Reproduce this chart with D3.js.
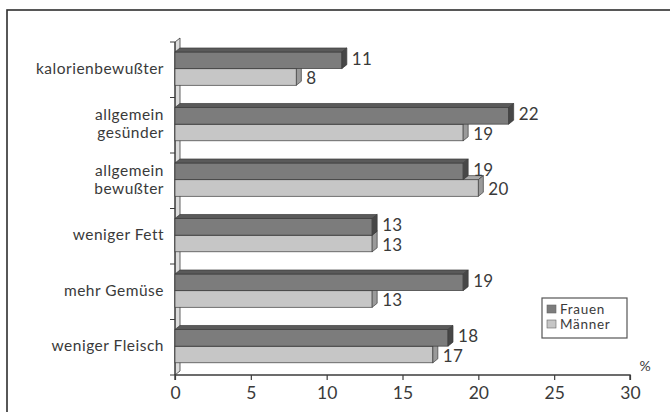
<!DOCTYPE html>
<html>
<head>
<meta charset="utf-8">
<script src="https://cdn.jsdelivr.net/npm/d3@7"></script>
<style>
  html, body { margin: 0; padding: 0; background: #fff; }
  svg { display: block; font-family: Lato, "Open Sans", sans-serif; }
</style>
</head>
<body>
<svg id="chart" width="670" height="412"></svg>
<script>
// Categories (top to bottom), each label may span two lines
const categories = [
  ["kalorienbewußter"],
  ["allgemein", "gesünder"],
  ["allgemein", "bewußter"],
  ["weniger Fett"],
  ["mehr Gemüse"],
  ["weniger Fleisch"]
];
const seriesNames = ["Frauen", "Männer"];
const frauen = [11, 22, 19, 13, 19, 18];
const maenner = [8, 19, 20, 13, 13, 17];
const xTicks = [0, 5, 10, 15, 20, 25, 30];

const svg = d3.select("#chart");
const textColor = "#3a3a3a";
const lineColor = "#3c3c3c";

// 3D depth offset of every box
const dx = 5, dy = -4;

const keys = categories.map(c => c.join(" "));
const x = d3.scaleLinear().domain([0, 30]).range([175, 630]);
const y = d3.scaleBand().domain(keys).range([42, 375]).padding(0);
const bw = y.bandwidth();
const ySub = d3.scaleBand().domain(seriesNames).range([bw * 0.18, bw * 0.78]);

const styles = {
  "Frauen": { front: "#7c7c7c", top: "#5a5a5a", side: "#474747", shift: -2 },
  "Männer": { front: "#c6c6c6", top: "#a9a9a9", side: "#9a9a9a", shift: 0.8 }
};

// outer frame
svg.append("rect")
  .attr("x", 7).attr("y", 10).attr("width", 700).attr("height", 450)
  .attr("fill", "none").attr("stroke", "#2e2e2e").attr("stroke-width", 1.6);

// back wall along the category axis
const x0 = x(0);
svg.append("polygon")
  .attr("points", [[x0, 42], [x0 + dx, 42 + dy], [x0 + dx, 375 + dy], [x0, 375]].join(" "))
  .attr("fill", "#dcdcdc").attr("stroke", lineColor).attr("stroke-width", 0.8);

// category axis ticks at band boundaries
const bounds = keys.map(k => y(k)).concat([375]);
svg.append("g").selectAll("line").data(bounds).join("line")
  .attr("x1", x0 - 5).attr("x2", x0)
  .attr("y1", d => d).attr("y2", d => d)
  .attr("stroke", lineColor).attr("stroke-width", 1);
svg.append("line")
  .attr("x1", x0).attr("x2", x0).attr("y1", 42).attr("y2", 375)
  .attr("stroke", lineColor).attr("stroke-width", 1.2);

// bars: draw lower series first so the upper one covers its top face
const rows = keys.map((k, i) => ({ key: k, values: { "Frauen": frauen[i], "Männer": maenner[i] } }));
const drawOrder = ["Männer", "Frauen"];

const gBars = svg.append("g");
rows.forEach(row => {
  drawOrder.forEach(s => {
    const v = row.values[s];
    const yt = y(row.key) + ySub(s);
    const h = ySub.bandwidth();
    const xe = x(v);
    const st = styles[s];
    const g = gBars.append("g");
    g.append("rect")
      .attr("x", x0).attr("y", yt).attr("width", xe - x0).attr("height", h)
      .attr("fill", st.front).attr("stroke", lineColor).attr("stroke-width", 0.7);
    g.append("polygon")
      .attr("points", [[x0, yt], [x0 + dx, yt + dy], [xe + dx, yt + dy], [xe, yt]].join(" "))
      .attr("fill", st.top).attr("stroke", lineColor).attr("stroke-width", 0.7);
    g.append("polygon")
      .attr("points", [[xe, yt], [xe + dx, yt + dy], [xe + dx, yt + h + dy], [xe, yt + h]].join(" "))
      .attr("fill", st.side).attr("stroke", lineColor).attr("stroke-width", 0.7);
    g.append("text")
      .attr("x", xe + dx + 5).attr("y", yt + h / 2 + st.shift)
      .attr("dominant-baseline", "central")
      .attr("font-size", 17).attr("letter-spacing", 0.3).attr("fill", textColor)
      .text(v);
  });
});

// category labels
const gLab = svg.append("g");
categories.forEach((lines, i) => {
  const cy = y(keys[i]) + bw / 2 - 2;
  const lh = 18;
  const t = gLab.append("text")
    .attr("text-anchor", "end").attr("font-size", 15.5)
    .attr("letter-spacing", 0.5).attr("fill", textColor);
  lines.forEach((ln, j) => {
    t.append("tspan")
      .attr("x", 164)
      .attr("y", cy + (j - (lines.length - 1) / 2) * lh)
      .attr("dominant-baseline", "central")
      .text(ln);
  });
});

// value axis
const xAxis = d3.axisBottom(x).tickValues(xTicks).tickSize(5).tickPadding(7);
const gx = svg.append("g").attr("transform", "translate(0,375)").call(xAxis);
gx.select(".domain").attr("stroke", lineColor).attr("stroke-width", 1.4)
  .attr("d", `M${x(0)},5V0H${x(30)}V5`);
gx.selectAll(".tick line").attr("stroke", lineColor).attr("stroke-width", 1.2);
gx.selectAll(".tick text").attr("font-size", 17.5).attr("fill", textColor)
  .attr("font-family", "Lato, 'Open Sans', sans-serif");

svg.append("text")
  .attr("x", 645).attr("y", 371).attr("text-anchor", "middle")
  .attr("font-size", 14).attr("fill", textColor).text("%");

// legend
const lg = svg.append("g").attr("transform", "translate(542,298)");
lg.append("rect").attr("width", 85).attr("height", 40)
  .attr("fill", "#fff").attr("stroke", "#555").attr("stroke-width", 1.2);
seriesNames.forEach((s, i) => {
  const r = lg.append("g").attr("transform", `translate(5,${7 + i * 15})`);
  r.append("rect").attr("width", 9).attr("height", 8)
    .attr("fill", styles[s].front).attr("stroke", "#666").attr("stroke-width", 0.6);
  r.append("text").attr("x", 13).attr("y", 4)
    .attr("dominant-baseline", "central")
    .attr("font-size", 13.5).attr("letter-spacing", 0.7)
    .attr("fill", textColor).text(s);
});
</script>
</body>
</html>
